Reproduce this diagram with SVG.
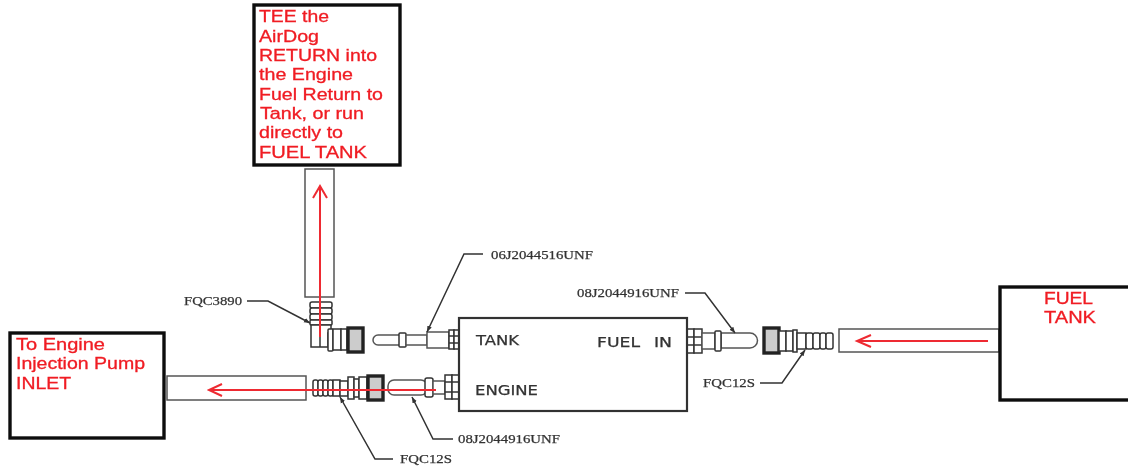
<svg xmlns="http://www.w3.org/2000/svg" width="1128" height="467" viewBox="0 0 1128 467">
<defs>
<filter id="soft" x="0" y="0" width="1128" height="467" filterUnits="userSpaceOnUse"><feGaussianBlur stdDeviation="0.7"/></filter>
<marker id="tip" viewBox="0 0 6 6" refX="6" refY="3" markerWidth="6" markerHeight="6" markerUnits="userSpaceOnUse" orient="auto"><path d="M0 .6L6 3L0 5.4Z" fill="#333"/></marker>
<style>
.box{fill:#fff;stroke:#111;stroke-width:3.4}
.red{font-family:"Liberation Sans",Arial,sans-serif;font-size:16px;fill:#f01c24;stroke:#f01c24;stroke-width:.3}
.lbl{font-family:"Liberation Serif","Times New Roman",serif;font-size:13px;fill:#333;stroke:#333;stroke-width:.25}
.pl{font-family:"DejaVu Sans",sans-serif;font-size:13.5px;fill:#333;stroke:#333;stroke-width:.25}
.t{fill:#fff;stroke:#555;stroke-width:1.5}
.d{fill:#fff;stroke:#333;stroke-width:1.5}
.k{fill:#ccc;stroke:#222;stroke-width:3.4}
.lead{fill:none;stroke:#333;stroke-width:1.5;marker-end:url(#tip)}
.arr{fill:none;stroke:#ee2a30;stroke-width:2}
</style>
</defs>
<rect width="1128" height="467" fill="#fff"/>
<g filter="url(#soft)">
<g id="parts">
<rect class="t" x="305" y="169" width="29" height="128"/>
<rect class="t" x="167" y="376" width="139" height="24"/>
<rect class="t" x="839" y="329" width="160" height="23"/>
<!-- FQC3890 -->
<rect class="d" x="310" y="302" width="22" height="6" rx="2"/>
<rect class="d" x="310" y="308" width="22" height="6" rx="2"/>
<rect class="d" x="310" y="314" width="22" height="6" rx="2"/>
<rect class="d" x="310" y="320" width="22" height="5" rx="1"/>
<path class="d" d="M311 325H331V331L328 333V347H311Z"/>
<line class="d" x1="320" y1="325" x2="320" y2="347"/>
<rect class="d" x="328" y="329" width="5" height="22" rx="1"/>
<rect class="d" x="333" y="329" width="8" height="21"/>
<rect class="d" x="341" y="329" width="6" height="21"/>
<rect class="k" x="348" y="328" width="15" height="24"/>
<!-- 06J fitting -->
<path class="t" d="M378 335H400V345H378A5 5 0 0 1 378 335Z"/>
<rect class="d" x="399" y="333" width="7" height="14" rx="1"/>
<rect class="t" x="406" y="335" width="21" height="10"/>
<rect class="t" x="427" y="332" width="22" height="16"/>
<rect class="d" x="449" y="330" width="5" height="19"/>
<rect class="d" x="454" y="330" width="5" height="19"/>
<line class="d" x1="449" y1="336" x2="459" y2="336"/>
<line class="d" x1="449" y1="343" x2="459" y2="343"/>
<!-- Lower left fitting -->
<rect class="d" x="313" y="380" width="5" height="16" rx="2"/>
<rect class="d" x="318" y="380" width="5" height="16" rx="2"/>
<rect class="d" x="323" y="380" width="5" height="16" rx="2"/>
<rect class="d" x="328" y="380" width="5" height="16" rx="2"/>
<rect class="d" x="333" y="380" width="7" height="16"/>
<rect class="d" x="340" y="381" width="8" height="15"/>
<rect class="d" x="348" y="377" width="6" height="22"/>
<rect class="d" x="354" y="379" width="5" height="18"/>
<rect class="d" x="359" y="377" width="8" height="22"/>
<rect class="k" x="368" y="376" width="15" height="24"/>
<rect class="t" x="388" y="380" width="39" height="15" rx="6"/>
<rect class="d" x="425" y="378" width="8" height="19" rx="2"/>
<rect class="t" x="433" y="381" width="12" height="13"/>
<rect class="d" x="445" y="375" width="7" height="24"/>
<rect class="d" x="452" y="375" width="7" height="24"/>
<line class="d" x1="445" y1="382" x2="459" y2="382"/>
<line class="d" x1="445" y1="392" x2="459" y2="392"/>
<!-- Fuel in fitting -->
<rect class="d" x="687" y="329" width="7" height="24"/>
<rect class="d" x="694" y="329" width="8" height="24"/>
<line class="d" x1="687" y1="337" x2="702" y2="337"/>
<line class="d" x1="687" y1="345" x2="702" y2="345"/>
<rect class="t" x="702" y="333" width="13" height="16"/>
<path class="t" d="M721 333H750A7.5 7.5 0 0 1 750 348H721Z"/>
<rect class="d" x="715" y="331" width="6" height="20" rx="1"/>
<!-- FQC12S right -->
<rect class="k" x="764" y="328" width="15" height="25"/>
<rect class="d" x="779" y="331" width="7" height="20"/>
<rect class="d" x="786" y="331" width="7" height="20"/>
<rect class="d" x="793" y="330" width="4" height="22"/>
<rect class="d" x="797" y="333" width="9" height="16"/>
<rect class="d" x="806" y="333" width="7" height="16" rx="2"/>
<rect class="d" x="813" y="333" width="7" height="16" rx="2"/>
<rect class="d" x="820" y="333" width="6" height="16" rx="2"/>
<rect class="d" x="826" y="333" width="7" height="16" rx="2"/>
</g>
<g id="airdog-unit">
<rect x="459" y="318" width="228" height="93" fill="#fff" stroke="#333" stroke-width="2.2"/>
<text class="pl" x="476" y="345" textLength="43" lengthAdjust="spacingAndGlyphs">TANK</text>
<text class="pl" x="597" y="347" textLength="43" lengthAdjust="spacingAndGlyphs">FUEL</text>
<text class="pl" x="654" y="347" textLength="18" lengthAdjust="spacingAndGlyphs">IN</text>
<text class="pl" x="475" y="395" textLength="63" lengthAdjust="spacingAndGlyphs">ENGINE</text>
</g>
<g id="connectors">
<path class="lead" d="M247 301H268L310 323"/>
<path class="lead" d="M483 254H464L427 332"/>
<path class="lead" d="M685 293H705L735 333"/>
<path class="lead" d="M760 383H782L805 350"/>
<path class="lead" d="M453 439H433L412 397"/>
<path class="lead" d="M393 459H375L340 397"/>
<path class="arr" d="M320 337V186M313 198L320 186L327 198"/>
<path class="arr" d="M436 390H209M222 384L209 390L222 396"/>
<path class="arr" d="M988 341H857M871 335L857 341L871 347"/>
</g>
<g id="labels">
<text class="lbl" x="184" y="305" textLength="58" lengthAdjust="spacingAndGlyphs">FQC3890</text>
<text class="lbl" x="491" y="259" textLength="102" lengthAdjust="spacingAndGlyphs">06J2044516UNF</text>
<text class="lbl" x="577" y="297" textLength="102" lengthAdjust="spacingAndGlyphs">08J2044916UNF</text>
<text class="lbl" x="703" y="387" textLength="52" lengthAdjust="spacingAndGlyphs">FQC12S</text>
<text class="lbl" x="458" y="443" textLength="102" lengthAdjust="spacingAndGlyphs">08J2044916UNF</text>
<text class="lbl" x="400" y="463" textLength="52" lengthAdjust="spacingAndGlyphs">FQC12S</text>
</g>
<g id="return-note">
<rect class="box" x="254" y="5" width="146" height="160"/>
<text class="red" x="259" y="22" textLength="70" lengthAdjust="spacingAndGlyphs">TEE the</text>
<text class="red" x="259" y="42" textLength="60" lengthAdjust="spacingAndGlyphs">AirDog</text>
<text class="red" x="259" y="61" textLength="118" lengthAdjust="spacingAndGlyphs">RETURN into</text>
<text class="red" x="259" y="80" textLength="94" lengthAdjust="spacingAndGlyphs">the Engine</text>
<text class="red" x="259" y="100" textLength="124" lengthAdjust="spacingAndGlyphs">Fuel Return to</text>
<text class="red" x="260" y="119" textLength="104" lengthAdjust="spacingAndGlyphs">Tank, or run</text>
<text class="red" x="259" y="138" textLength="84" lengthAdjust="spacingAndGlyphs">directly to</text>
<text class="red" x="259" y="158" textLength="108" lengthAdjust="spacingAndGlyphs">FUEL TANK</text>
</g>
<g id="pump-inlet">
<rect class="box" x="10" y="333" width="154" height="105"/>
<text class="red" x="16" y="350" textLength="89" lengthAdjust="spacingAndGlyphs">To Engine</text>
<text class="red" x="16" y="369" textLength="129" lengthAdjust="spacingAndGlyphs">Injection Pump</text>
<text class="red" x="16" y="389" textLength="55" lengthAdjust="spacingAndGlyphs">INLET</text>
</g>
<g id="fuel-tank">
<rect class="box" x="1000" y="287" width="135" height="113"/>
<text class="red" x="1044" y="304" textLength="49" lengthAdjust="spacingAndGlyphs">FUEL</text>
<text class="red" x="1044" y="323" textLength="52" lengthAdjust="spacingAndGlyphs">TANK</text>
</g>
</g>
</svg>
